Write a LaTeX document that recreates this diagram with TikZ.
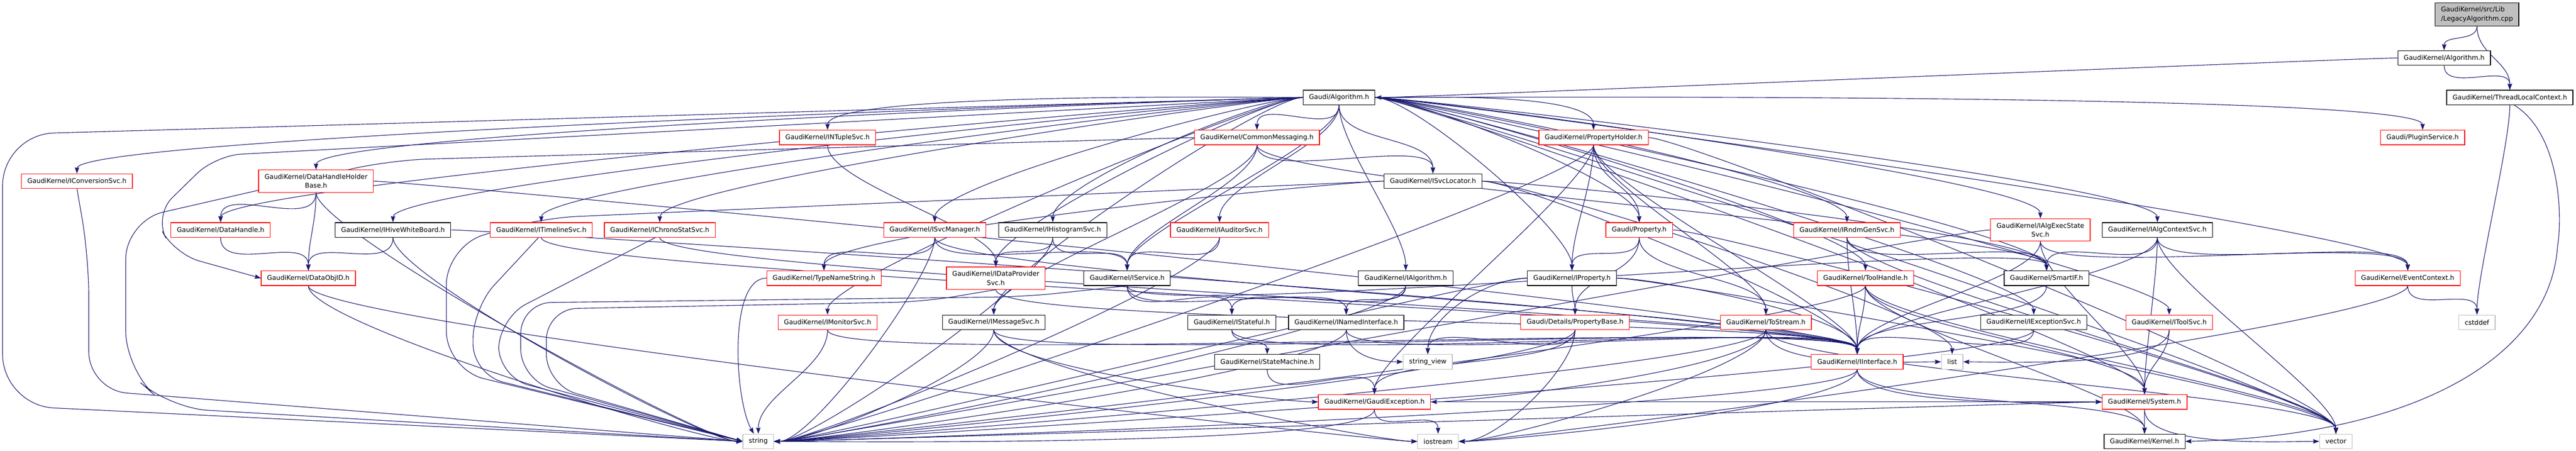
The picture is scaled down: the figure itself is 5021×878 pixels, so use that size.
\documentclass[tikz,border=0pt]{standalone}
\usepackage{fontspec}
\usetikzlibrary{arrows.meta}
\newfontfamily\dxfont{DejaVu Sans}
\definecolor{edgeblue}{HTML}{191970}
\definecolor{sysgray}{HTML}{BFBFBF}
\pgfdeclarelayer{edges}
\pgfsetlayers{edges,main}

\begin{document}
\begin{tikzpicture}[x=0.006cm, y=-0.006cm,
    hdr/.style={rectangle, draw=black, fill=white, line width=0.21pt, minimum height=0.171cm,
      inner xsep=0.069cm, inner ysep=0pt, align=center,
      font=\dxfont\fontsize{2.19pt}{2.97pt}\selectfont},
    redhdr/.style={hdr, draw=red},
    syshdr/.style={hdr, draw=sysgray},
    twoline/.style={minimum height=0.261cm},
    roothdr/.style={hdr, fill=sysgray, align=left, minimum height=0.27cm},
    dep/.style={draw=edgeblue, line width=0.195pt, -{Stealth[length=0.072cm, width=0.051cm, inset=0.009cm]}},
    every edge/.style={dep, out=-90, in=90, max distance=0.45cm}]
\useasboundingbox (0,0) rectangle (5021,878);

% headers, row by row
\node[roothdr] (root) at (4828,28) {GaudiKernel/src/Lib\\/LegacyAlgorithm.cpp};
\node[hdr] (galg) at (4764,113) {GaudiKernel/Algorithm.h};
\node[hdr] (alg) at (2610,190) {Gaudi/Algorithm.h};
\node[hdr] (tlc) at (4892,190) {GaudiKernel/ThreadLocalContext.h};

\node[redhdr] (ntup) at (1613,268) {GaudiKernel/INTupleSvc.h};
\node[redhdr] (cmsg) at (2450,268) {GaudiKernel/CommonMessaging.h};
\node[redhdr] (pholder) at (3106,268) {GaudiKernel/PropertyHolder.h};
\node[redhdr] (plugin) at (4722,268) {Gaudi/PluginService.h};

\node[redhdr] (iconv) at (150,353) {GaudiKernel/IConversionSvc.h};
\node[redhdr, twoline] (dhhb) at (616,353) {GaudiKernel/DataHandleHolder\\Base.h};
\node[hdr] (svcloc) at (2793,353) {GaudiKernel/ISvcLocator.h};

\node[redhdr] (dhandle) at (430,448) {GaudiKernel/DataHandle.h};
\node[hdr] (hive) at (766,448) {GaudiKernel/IHiveWhiteBoard.h};
\node[redhdr] (timeline) at (1055,448) {GaudiKernel/ITimelineSvc.h};
\node[redhdr] (chrono) at (1286,448) {GaudiKernel/IChronoStatSvc.h};
\node[redhdr] (svcmgr) at (1822,448) {GaudiKernel/ISvcManager.h};
\node[hdr] (histo) at (2052,448) {GaudiKernel/IHistogramSvc.h};
\node[redhdr] (auditor) at (2377,448) {GaudiKernel/IAuditorSvc.h};
\node[redhdr] (prop) at (3195,448) {Gaudi/Property.h};
\node[redhdr] (rndm) at (3600,448) {GaudiKernel/IRndmGenSvc.h};
\node[redhdr, twoline] (execst) at (3977,448) {GaudiKernel/IAlgExecState\\Svc.h};
\node[hdr] (algctx) at (4205,448) {GaudiKernel/IAlgContextSvc.h};

\node[redhdr] (objid) at (601,542) {GaudiKernel/DataObjID.h};
\node[redhdr] (tns) at (1606,542) {GaudiKernel/TypeNameString.h};
\node[redhdr, twoline] (dps) at (1941,542) {GaudiKernel/IDataProvider\\Svc.h};
\node[hdr] (isvc) at (2197,542) {GaudiKernel/IService.h};
\node[hdr] (ialg) at (2740,542) {GaudiKernel/IAlgorithm.h};
\node[hdr] (iprop) at (3064,542) {GaudiKernel/IProperty.h};
\node[redhdr] (toolh) at (3636,542) {GaudiKernel/ToolHandle.h};
\node[hdr] (smartif) at (3989,542) {GaudiKernel/SmartIF.h};
\node[redhdr] (evctx) at (4693,542) {GaudiKernel/EventContext.h};

\node[redhdr] (monitor) at (1613,628) {GaudiKernel/IMonitorSvc.h};
\node[hdr] (msgsvc) at (1937,628) {GaudiKernel/IMessageSvc.h};
\node[hdr] (stateful) at (2401,628) {GaudiKernel/IStateful.h};
\node[hdr] (named) at (2624,628) {GaudiKernel/INamedInterface.h};
\node[redhdr] (pbase) at (3070,628) {Gaudi/Details/PropertyBase.h};
\node[redhdr] (tostream) at (3442,628) {GaudiKernel/ToStream.h};
\node[hdr] (excsvc) at (3964,628) {GaudiKernel/IExceptionSvc.h};
\node[redhdr] (toolsvc) at (4228,628) {GaudiKernel/IToolSvc.h};
\node[syshdr] (cstddef) at (4828,628) {cstddef};

\node[hdr] (statem) at (2470,705) {GaudiKernel/StateMachine.h};
\node[syshdr] (strview) at (2783,705) {string\_view};
\node[redhdr] (iintf) at (3620,705) {GaudiKernel/IInterface.h};
\node[syshdr] (list) at (3805,705) {list};

\node[redhdr] (gexc) at (2679,783) {GaudiKernel/GaudiException.h};
\node[redhdr] (system) at (4180,783) {GaudiKernel/System.h};

\node[syshdr] (string) at (1478,860) {string};
\node[syshdr] (iostream) at (2803,860) {iostream};
\node[hdr] (kernel) at (4180,860) {GaudiKernel/Kernel.h};
\node[syshdr] (vector) at (4553,860) {vector};

\begin{pgfonlayer}{edges}
% top of the graph
\path (root) edge (galg) edge (tlc);
\path (galg) edge[out=180, in=0] (alg) edge (tlc);
\path (tlc) edge (cstddef);
\draw[dep] (tlc.-60) .. controls (4990,260) and (4995,420) .. (4985,480) .. controls (4970,700) and (4700,850) .. (kernel.east);

% Gaudi/Algorithm.h
\path (alg) edge[out=180] (iconv) edge[out=180] (dhhb) edge[out=180] (dhandle)
  edge[out=180] (hive) edge[out=180] (timeline) edge[out=180] (chrono)
  edge[out=180] (ntup) edge[out=180] (svcmgr) edge[out=180] (histo)
  edge[out=180] (dps) edge[out=180] (monitor) edge[out=180] (msgsvc)
  edge (cmsg) edge (auditor) edge (isvc) edge (svcloc) edge (ialg)
  edge[out=0] (pholder) edge[out=0] (prop) edge[out=0] (iprop) edge[out=0] (rndm)
  edge[out=0] (toolh) edge[out=0] (execst) edge[out=0] (algctx) edge[out=0] (smartif)
  edge[out=0] (evctx) edge[out=0] (plugin) edge[out=0] (excsvc) edge[out=0] (toolsvc)
  edge[out=0] (system) edge[out=0] (vector);
\draw[dep, rounded corners=0.6cm] (alg.west) -- (5,262) -- (5,790) -- (string.west);
\draw[dep, rounded corners=0.3cm] (alg.west) -- (420,303) -- (300,420) -- (340,495) -- (objid.west);

% long loops on the left
\draw[dep, rounded corners=0.45cm] (iconv.south) -- (173,500) -- (173,760) -- (string.west);
\draw[dep, rounded corners=0.45cm] (cmsg.west) -- (760,312) -- (245,430) -- (245,720) -- (330,795) -- (string.west);
\draw[dep, rounded corners=0.45cm] (svcloc.west) -- (1050,425) -- (870,480) -- (870,720) -- (string.west);
\draw[dep, rounded corners=0.36cm] (timeline.-110) -- (922,600) -- (922,730) -- (string.west);
\draw[dep, rounded corners=0.36cm] (chrono.-120) -- (972,620) -- (972,735) -- (string.west);
\draw[dep, rounded corners=0.36cm] (isvc.south) -- (2000,578) -- (1015,590) -- (1015,740) -- (string.west);
\draw[dep, rounded corners=0.36cm] (dps.south) -- (1800,588) -- (1065,602) -- (1065,750) -- (string.west);

% second level
\path (ntup) edge (dps);
\path (cmsg) edge (isvc) edge (svcloc) edge (msgsvc) edge (smartif);
\path (pholder) edge (prop) edge (iprop) edge (tostream) edge (iintf) edge (gexc)
  edge[in=0] (string) edge[out=0] (vector);
\path (dhhb) edge (dhandle) edge (objid) edge[in=180] (string) edge[out=0] (iintf);
\path (svcloc) edge[out=180] (tns) edge[out=0] (iintf) edge[out=0] (smartif) edge[out=0] (list);
\path (dhandle) edge (objid);
\path (hive) edge (objid) edge[in=180] (string) edge[out=0] (iintf);
\path (timeline) edge (iintf);
\path (chrono) edge (iintf);
\path (svcmgr) edge (tns) edge (isvc) edge (iintf) edge[in=0] (string);
\path (histo) edge (dps) edge (isvc) edge[in=0] (string);
\path (auditor) edge (isvc) edge[in=0] (string);
\path (prop) edge (iprop) edge (pbase) edge (tostream) edge[out=0] (vector);
\path (rndm) edge (smartif) edge (iintf) edge (vector);
\path (execst) edge (iintf) edge (evctx) edge (system) edge[out=180, in=0] (string);
\path (algctx) edge (smartif) edge (evctx) edge (system) edge (vector) edge (iintf);

% third level
\path (objid) edge[in=180] (string) edge[in=180] (iostream);
\path (tns) edge[out=180, in=120] (string);
\path (dps) edge (iintf);
\path (isvc) edge (stateful) edge (named) edge (smartif);
\path (ialg) edge (named) edge (stateful) edge[in=0] (string);
\path (iprop) edge (pbase) edge[out=0] (iintf) edge[out=180] (strview) edge[out=0] (vector) edge[out=180, in=0] (string);
\path (toolh) edge (iintf) edge (system) edge (kernel) edge (vector) edge[in=0] (string);
\path (smartif) edge (iintf);
\path (evctx) edge (cstddef) edge[in=0] (iostream);
\path (monitor) edge (iintf) edge (string);
\path (msgsvc) edge (iintf) edge[in=0] (string) edge[in=180] (iostream) edge[in=180] (gexc);
\path (stateful) edge (statem) edge (iintf);
\path (named) edge (iintf) edge[in=180] (strview) edge[in=0] (string);
\path (pbase) edge (gexc) edge (strview) edge[in=0] (iostream) edge[in=0] (string);
\path (tostream) edge[in=180] (list) edge[in=0] (iostream) edge (vector) edge[in=0] (gexc) edge[in=0] (string);
\path (excsvc) edge (iintf) edge[in=0] (string);
\path (toolsvc) edge[in=0] (list) edge (system);
\path (statem) edge (gexc);

% bottom
\path (iintf) edge[in=180] (system) edge (kernel) edge[in=0] (iostream) edge[in=0] (string);
\path (gexc) edge (iostream) edge[in=0] (string) edge[out=0, in=180] (system);
\path (system) edge (kernel) edge[in=180] (vector) edge[out=180, in=0] (string);
\end{pgfonlayer}
\end{tikzpicture}
\end{document}
